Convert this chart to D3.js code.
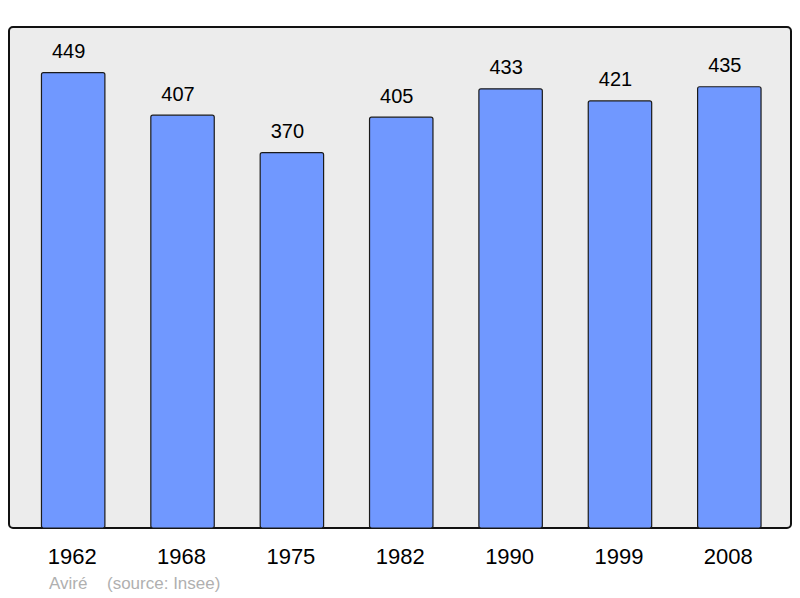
<!DOCTYPE html>
<html lang="fr">
<head>
<meta charset="UTF-8">
<title>Aviré – population</title>
<script src="https://d3js.org/d3.v7.min.js"></script>
<style>
  body { margin: 0; background: #fff; }
  text { font-family: "Liberation Sans", Arial, sans-serif; }
</style>
</head>
<body>
<svg id="chart" width="800" height="598"></svg>
<script>
// data
const years  = ["1962", "1968", "1975", "1982", "1990", "1999", "2008"];
const values = [449, 407, 370, 405, 433, 421, 435];
const commune = "Aviré";
const source  = "(source: Insee)";

const svg = d3.select("#chart");

// plot panel
const panel = { x: 9, y: 27, w: 782, h: 501 };

svg.append("rect")
  .attr("x", panel.x).attr("y", panel.y)
  .attr("width", panel.w).attr("height", panel.h)
  .attr("rx", 4)
  .attr("fill", "#ececec")
  .attr("stroke", "#111")
  .attr("stroke-width", 2);

const x = d3.scaleBand()
  .domain(years)
  .range([18.5, 784])
  .paddingInner(0.42)
  .paddingOuter(0.21);

const y = d3.scaleLinear()
  .domain([0, d3.max(values) * 1.1])
  .range([panel.y + panel.h, panel.y]);

const rows = years.map((yr, i) => ({ yr, v: values[i] }));

// bars
svg.append("g")
  .selectAll("rect")
  .data(rows)
  .join("rect")
    .attr("x", d => x(d.yr))
    .attr("y", d => y(d.v))
    .attr("width", x.bandwidth())
    .attr("height", d => y(0) - y(d.v))
    .attr("rx", 2)
    .attr("fill", "#7098ff")
    .attr("stroke", "#1a1a1a")
    .attr("stroke-width", 1.2);

// value labels (sit a little left of the bar centre in the original)
svg.append("g")
  .selectAll("text")
  .data(rows)
  .join("text")
    .attr("x", d => x(d.yr) + x.bandwidth() / 2 - 4.5)
    .attr("y", d => y(d.v) - 14.5)
    .attr("text-anchor", "middle")
    .attr("fill", "#000")
    .style("font-size", "20px")
    .text(d => d.v);

// year labels
svg.append("g")
  .selectAll("text")
  .data(years)
  .join("text")
    .attr("x", d => x(d) + x.bandwidth() / 2 - 1)
    .attr("y", 564)
    .attr("text-anchor", "middle")
    .attr("fill", "#000")
    .style("font-size", "22px")
    .text(d => d);

// footer
svg.append("text")
  .attr("x", 49).attr("y", 589)
  .attr("fill", "#b0b0b0")
  .style("font-size", "17px")
  .text(commune);

svg.append("text")
  .attr("x", 107).attr("y", 589)
  .attr("fill", "#b0b0b0")
  .style("font-size", "17px")
  .text(source);
</script>
</body>
</html>
